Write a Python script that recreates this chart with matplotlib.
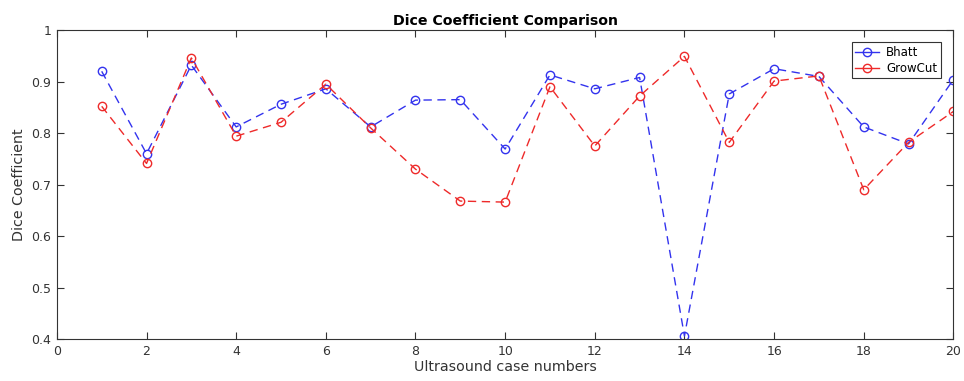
import matplotlib
matplotlib.use("Agg")
import matplotlib.pyplot as plt

# Ultrasound case numbers and Dice scores
cases = list(range(1, 21))
bhatt = [0.920, 0.760, 0.932, 0.812, 0.856, 0.886, 0.812, 0.864, 0.865, 0.769,
         0.913, 0.886, 0.908, 0.406, 0.876, 0.925, 0.910, 0.812, 0.779, 0.904]
growcut = [0.852, 0.741, 0.946, 0.794, 0.821, 0.895, 0.810, 0.730, 0.668, 0.666,
           0.890, 0.775, 0.872, 0.949, 0.782, 0.901, 0.911, 0.690, 0.782, 0.842]

xticks = [0, 2, 4, 6, 8, 10, 12, 14, 16, 18, 20]
yticks = [0.4, 0.5, 0.6, 0.7, 0.8, 0.9, 1.0]
ytick_labels = ["0.4", "0.5", "0.6", "0.7", "0.8", "0.9", "1"]

plt.rcParams["font.family"] = "DejaVu Sans"

fig = plt.figure(figsize=(9.64, 3.81), dpi=100)
ax = fig.add_axes([0.059, 0.110, 0.930, 0.811])

ax.plot(cases, bhatt, "o--", color="#3333ee", mfc="none", ms=6, lw=1.0,
        dashes=(6, 4), label="Bhatt")
ax.plot(cases, growcut, "o--", color="#ee2a2a", mfc="none", ms=6, lw=1.0,
        dashes=(6, 4), label="GrowCut")

ax.set_xlim(0, 20)
ax.set_ylim(0.4, 1.0)
ax.set_xticks(xticks)
ax.set_yticks(yticks)
ax.set_yticklabels(ytick_labels)
ax.tick_params(direction="in", top=True, right=True, length=5, width=0.8,
               labelsize=9, colors="#333333", pad=4)
for s in ax.spines.values():
    s.set_color("#333333")
    s.set_linewidth(0.8)

ax.set_xlabel("Ultrasound case numbers", fontsize=10.3, color="#333333", labelpad=2)
ax.set_ylabel("Dice Coefficient", fontsize=10.3, color="#333333", labelpad=4)
ax.set_title("Dice Coefficient Comparison", fontsize=10.2, fontweight="bold", pad=4)

leg = ax.legend(loc="upper right", bbox_to_anchor=(0.986, 0.96), fontsize=8.5,
                fancybox=False, framealpha=1, edgecolor="#333333",
                handlelength=2.0, borderpad=0.3, labelspacing=0.25,
                handletextpad=0.6, borderaxespad=0)
leg.get_frame().set_linewidth(0.8)
for h in leg.get_lines():
    h.set_linestyle("-")

fig.savefig("out.png", dpi=100)
